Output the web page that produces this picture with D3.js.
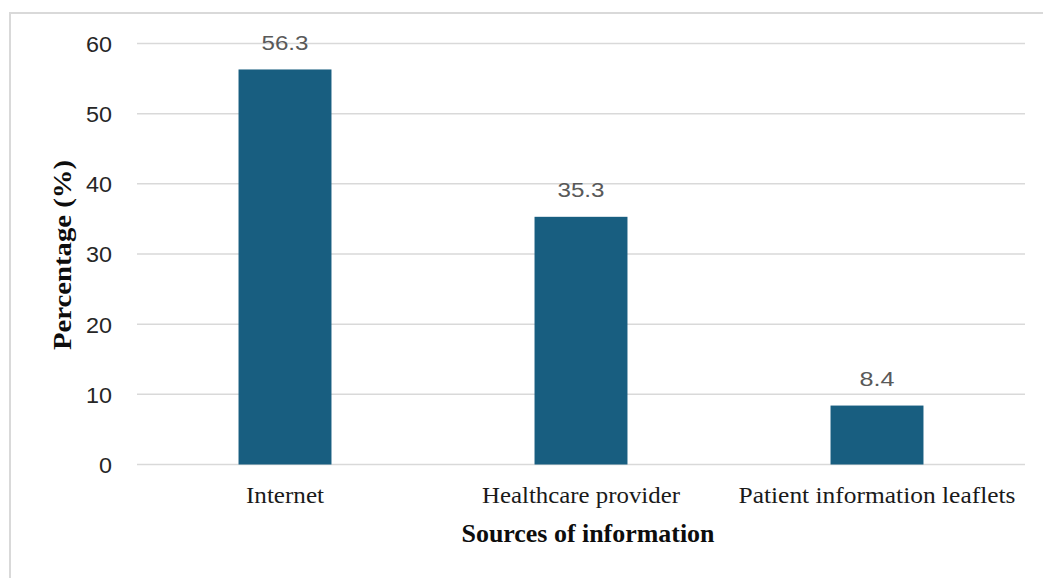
<!DOCTYPE html>
<html>
<head>
<meta charset="utf-8">
<script src="https://cdn.jsdelivr.net/npm/d3@7"></script>
<style>
  html, body { margin: 0; padding: 0; background: #ffffff; }
  svg { display: block; }
</style>
</head>
<body>
<svg id="chart" width="1043" height="578"></svg>
<script>
// Sources of information and share of respondents (%)
const categories = ["Internet", "Healthcare provider", "Patient information leaflets"];
const percentages = [56.3, 35.3, 8.4];
const yTicks = [0, 10, 20, 30, 40, 50, 60];

const svg = d3.select("#chart");
const W = 1043, H = 578;
const plot = { left: 137, right: 1025, top: 43.5, bottom: 464.5 };

// Outer chart frame (only the left and top edges fall inside the view)
svg.append("rect")
  .attr("x", 10).attr("y", 13)
  .attr("width", W + 20).attr("height", H + 20)
  .attr("fill", "none")
  .attr("stroke", "#d9d9d9")
  .attr("stroke-width", 2);

const x = d3.scaleBand()
  .domain(categories)
  .range([plot.left, plot.right])
  .paddingInner(0.686)
  .paddingOuter(0.343);

const y = d3.scaleLinear()
  .domain([0, 60])
  .range([plot.bottom, plot.top]);

// Horizontal gridlines
svg.append("g")
  .selectAll("line")
  .data(yTicks)
  .join("line")
  .attr("x1", plot.left)
  .attr("x2", plot.right)
  .attr("y1", d => y(d))
  .attr("y2", d => y(d))
  .attr("stroke", "#d9d9d9")
  .attr("stroke-width", 1.5);

// Y axis tick labels
const yAxis = d3.axisLeft(y).tickValues(yTicks).tickSize(0).tickPadding(0);
const yg = svg.append("g")
  .attr("transform", `translate(${plot.left - 25},0)`)
  .call(yAxis);
yg.select(".domain").remove();
yg.selectAll("text")
  .attr("dy", "0.36em")
  .attr("font-family", "Liberation Sans, Arial, sans-serif")
  .attr("font-size", 22)
  .attr("fill", "#262626")
  .attr("textLength", 26)
  .attr("lengthAdjust", "spacingAndGlyphs")
  .filter(d => d === 0).attr("textLength", 13);

// Bars
svg.append("g")
  .selectAll("rect")
  .data(percentages)
  .join("rect")
  .attr("x", (d, i) => x(categories[i]))
  .attr("width", x.bandwidth())
  .attr("y", d => y(d))
  .attr("height", d => y(0) - y(d))
  .attr("fill", "#185e80");

// Value labels above the bars
svg.append("g")
  .selectAll("text")
  .data(percentages)
  .join("text")
  .attr("x", (d, i) => x(categories[i]) + x.bandwidth() / 2)
  .attr("y", d => y(d) - 19.5)
  .attr("text-anchor", "middle")
  .attr("font-family", "Liberation Sans, Arial, sans-serif")
  .attr("font-size", 20)
  .attr("fill", "#595959")
  .attr("textLength", d => d < 10 ? 35 : 47)
  .attr("lengthAdjust", "spacingAndGlyphs")
  .text(d => d.toFixed(1));

// Category labels
const catWidths = { "Internet": 78, "Healthcare provider": 198, "Patient information leaflets": 277 };
const xAxis = d3.axisBottom(x).tickSize(0).tickPadding(0);
const xg = svg.append("g")
  .attr("transform", `translate(0,${plot.bottom})`)
  .call(xAxis);
xg.select(".domain").remove();
xg.selectAll("text")
  .attr("dy", 0)
  .attr("y", 38.5)
  .attr("font-family", "Liberation Serif, Times New Roman, serif")
  .attr("font-size", 23)
  .attr("fill", "#1a1a1a")
  .attr("textLength", d => catWidths[d])
  .attr("lengthAdjust", "spacingAndGlyphs");

// Axis titles
svg.append("text")
  .attr("x", 588)
  .attr("y", 542)
  .attr("text-anchor", "middle")
  .attr("font-family", "Liberation Serif, Times New Roman, serif")
  .attr("font-weight", "bold")
  .attr("font-size", 25)
  .attr("fill", "#0d0d0d")
  .attr("textLength", 253)
  .attr("lengthAdjust", "spacingAndGlyphs")
  .text("Sources of information");

svg.append("text")
  .attr("transform", "translate(71,255) rotate(-90)")
  .attr("text-anchor", "middle")
  .attr("font-family", "Liberation Serif, Times New Roman, serif")
  .attr("font-weight", "bold")
  .attr("font-size", 25)
  .attr("fill", "#0d0d0d")
  .attr("textLength", 190)
  .attr("lengthAdjust", "spacingAndGlyphs")
  .text("Percentage (%)");
</script>
</body>
</html>
